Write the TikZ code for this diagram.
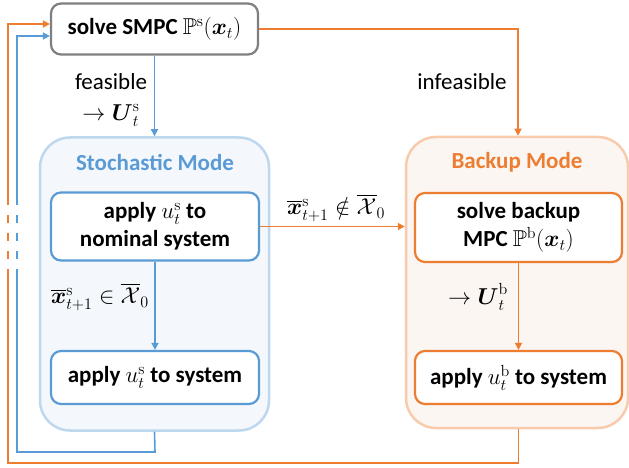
\RequirePackage{fix-cm}
\documentclass[tikz,border=0pt]{standalone}
\usepackage{amsmath,amssymb}
\usepackage[no-math]{fontspec}
\setmainfont{Carlito}
\usetikzlibrary{arrows.meta}
\definecolor{mblue}{HTML}{5B9BD5}
\definecolor{morange}{HTML}{ED7D31}
\definecolor{mgray}{HTML}{7F7F7F}
\definecolor{lblue}{HTML}{BDD7EE}
\definecolor{fblue}{HTML}{F4F8FC}
\definecolor{lorange}{HTML}{F8CBAD}
\definecolor{forange}{HTML}{FCF6F2}
\tikzset{
  box/.style={draw, line width=2.2pt, rounded corners=10pt, fill=white, inner sep=0pt,
    align=center, font=\fontsize{23}{28}\selectfont\bfseries},
  container/.style={line width=2.5pt, rounded corners=30pt, inner sep=0pt},
  title/.style={font=\fontsize{23}{26}\selectfont\bfseries, inner sep=0pt},
  lbl/.style={font=\fontsize{23}{31}\selectfont, inner sep=0pt, align=center},
  conn/.style={line width=1.6pt},
  arr/.style={conn, -{Triangle[length=7pt,width=7pt]}},
}
\begin{document}
\begin{tikzpicture}[x=1pt,y=-1pt]
\useasboundingbox (0,0) rectangle (629,468);
% containers
\node[container, draw=lblue, fill=fblue, minimum width=229pt, minimum height=293pt] (stoch) at (154.5,284) {};
\node[container, draw=lorange, fill=forange, minimum width=222pt, minimum height=291pt] (bup) at (517,282.5) {};
\node[title, text=mblue] (stitle) at (155,162) {Stochastic Mode};
\node[title, text=morange] (btitle) at (517,162) {Backup Mode};
% boxes
\node[box, draw=mgray, minimum width=207pt, minimum height=51pt] (top) at (154.5,29) {solve SMPC $\mathbb{P}^{\mathrm{s}}(\boldsymbol{x}_t)$};
\node[box, draw=mblue, minimum width=208pt, minimum height=68pt] (sb1) at (155,226.5) {apply $u_t^{\mathrm{s}}$ to\\nominal system};
\node[box, draw=mblue, minimum width=208pt, minimum height=53pt] (sb2) at (155,377.5) {apply $u_t^{\mathrm{s}}$ to system};
\node[box, draw=morange, minimum width=207pt, minimum height=69pt] (bb1) at (518.5,227.5) {solve backup\\MPC $\mathbb{P}^{\mathrm{b}}(\boldsymbol{x}_t)$};
\node[box, draw=morange, minimum width=207pt, minimum height=53pt] (bb2) at (518.5,377.5) {apply $u_t^{\mathrm{b}}$ to system};
% labels
\node[lbl] (lfeas) at (111,100) {feasible\\$\rightarrow \boldsymbol{U}_t^{\mathrm{s}}$};
\node[lbl] (linf) at (462,82) {infeasible};
\node[lbl] (lnotin) at (336,208) {$\overline{\boldsymbol{x}}_{t+1}^{\mathrm{s}} \notin \overline{\mathcal{X}}_0$};
\node[lbl] (lin) at (100,297) {$\overline{\boldsymbol{x}}_{t+1}^{\mathrm{s}} \in \overline{\mathcal{X}}_0$};
\node[lbl] (lub) at (478,297) {$\rightarrow \boldsymbol{U}_t^{\mathrm{b}}$};
% connectors
\draw[arr, mblue] (top.south) -- (stoch.north);
\draw[arr, morange] (top.east) -| ([xshift=1pt]bup.north);
\draw[arr, mblue] (sb1.south) -- (sb2.north);
\draw[arr, morange] (bb1.south) -- (bb2.north);
\draw[arr, morange] (sb1.east) -- (bup.west |- sb1.east);
% feedback loops
\coordinate (bl1) at (17,205);
\coordinate (bl2) at (17,269);
\coordinate (ol1) at (8,205);
\coordinate (ol2) at (8,269);
\draw[conn, mblue] (stoch.south) -- (155,452) -| (bl2);
\draw[conn, mblue, dash pattern=on 8pt off 10pt, dash phase=8pt] (bl1) -- (bl2);
\draw[arr, mblue] (bl1) |- ([yshift=-7pt]top.west);
\draw[conn, morange] (bb2.south |- bup.south) -- (bb2.south |- 0,463) -| (ol2);
\draw[conn, morange, dash pattern=on 8pt off 10pt, dash phase=8pt] (ol1) -- (ol2);
\draw[arr, morange] (ol1) |- ([yshift=5pt]top.west);
\end{tikzpicture}
\end{document}
